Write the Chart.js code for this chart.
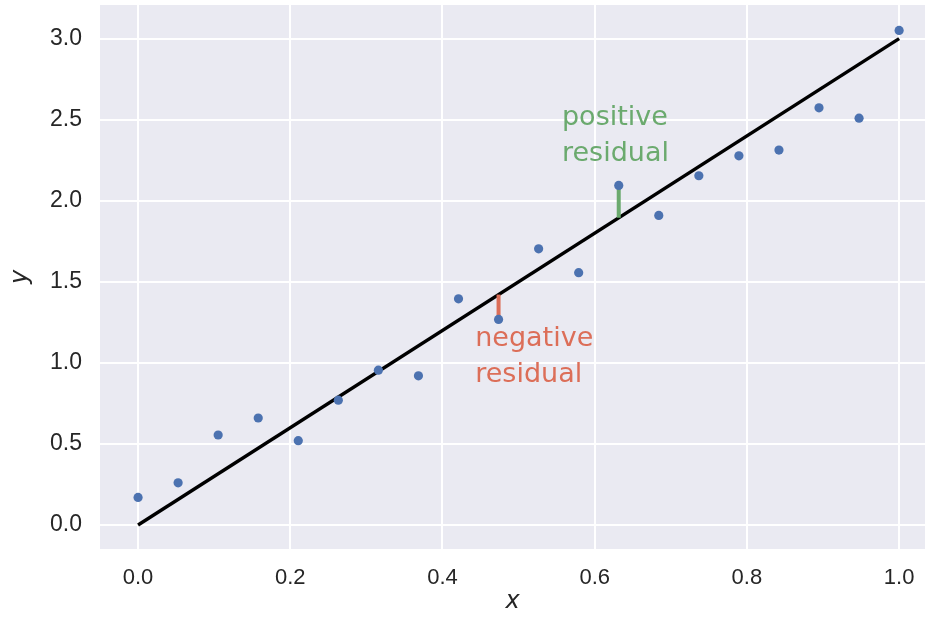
<!DOCTYPE html>
<html>
<head>
<meta charset="utf-8">
<script src="https://cdn.jsdelivr.net/npm/chart.js@4"></script>
<style>
  html, body { margin: 0; padding: 0; background: #fff; }
  #wrap { width: 925px; height: 618px; }
</style>
</head>
<body>
<div id="wrap"><canvas id="chart" width="925" height="618"></canvas></div>
<script>
// --- data ---
const xValues = [0, 1/19, 2/19, 3/19, 4/19, 5/19, 6/19, 7/19, 8/19, 9/19,
                 10/19, 11/19, 12/19, 13/19, 14/19, 15/19, 16/19, 17/19, 18/19, 1];
const yValues = [0.17, 0.26, 0.555, 0.66, 0.52, 0.77, 0.955, 0.92, 1.395, 1.268,
                 1.703, 1.556, 2.094, 1.909, 2.154, 2.277, 2.312, 2.573, 2.509, 3.05];
const fitLine = [{ x: 0, y: 0 }, { x: 1, y: 3 }];
const negResidual = [{ x: 9/19, y: 1.268 }, { x: 9/19, y: 27/19 }];
const posResidual = [{ x: 12/19, y: 2.094 }, { x: 12/19, y: 36/19 }];
const xTicks = [0, 0.2, 0.4, 0.6, 0.8, 1.0];
const yTicks = [0, 0.5, 1.0, 1.5, 2.0, 2.5, 3.0];

const BG = '#EAEAF2';
const BLUE = '#4C72B0';
const RED = '#DC6E58';
const GREEN = '#6BAA6E';
const TEXT = '#262626';

// plot background
const bgPlugin = {
    id: 'bg',
    beforeDraw: (chart) => {
        const a = chart.chartArea;
        const ctx = chart.ctx;
        ctx.save();
        ctx.fillStyle = BG;
        ctx.fillRect(a.left, a.top, a.right - a.left, a.bottom - a.top);
        ctx.restore();
    }
};

// text annotations in data coords
const labels = [
    { lines: ['positive', 'residual'], x: 0.557, y: 2.244, color: GREEN },
    { lines: ['negative', 'residual'], x: 0.443, y: 0.884, color: RED },
];
const textPlugin = {
    id: 'notes',
    afterDatasetsDraw: (chart) => {
        const ctx = chart.ctx;
        const xs = chart.scales.x, ys = chart.scales.y;
        ctx.save();
        ctx.font = '27px "DejaVu Sans"';
        ctx.textAlign = 'left';
        ctx.textBaseline = 'alphabetic';
        labels.forEach(l => {
            ctx.fillStyle = l.color;
            const px = xs.getPixelForValue(l.x);
            const py = ys.getPixelForValue(l.y);
            // last line sits on py, earlier ones stacked above
            l.lines.forEach((t, i) => {
                ctx.fillText(t, px, py - (l.lines.length - 1 - i) * 36);
            });
        });
        ctx.restore();
    }
};

const ctx = document.getElementById('chart').getContext('2d');
new Chart(ctx, {
    type: 'scatter',
    data: {
        datasets: [
            {
                type: 'line',
                data: fitLine,
                borderColor: '#000',
                borderWidth: 3.4,
                pointRadius: 0,
                order: 2,
            },
            {
                type: 'line',
                data: negResidual,
                borderColor: RED,
                borderWidth: 4,
                pointRadius: 0,
                order: 1,
            },
            {
                type: 'line',
                data: posResidual,
                borderColor: GREEN,
                borderWidth: 4,
                pointRadius: 0,
                order: 1,
            },
            {
                data: xValues.map((x, i) => ({ x: x, y: yValues[i] })),
                backgroundColor: BLUE,
                borderWidth: 0,
                pointRadius: 4.6,
                order: 0,
            },
        ]
    },
    options: {
        responsive: false,
        animation: false,
        layout: { autoPadding: false, padding: { top: 5, right: 0, left: 0, bottom: 0 } },
        plugins: {
            legend: { display: false },
            tooltip: { enabled: false },
        },
        scales: {
            x: {
                type: 'linear',
                min: -0.05,
                max: 1.034,
                afterFit: (s) => {
                    s.height = 69;
                    s.paddingLeft = 0;
                    s.paddingRight = 0;
                },
                afterBuildTicks: (s) => { s.ticks = xTicks.map(v => ({ value: v })); },
                border: { display: false },
                grid: { color: '#fff', lineWidth: 2, drawTicks: false },
                ticks: {
                    padding: 16,
                    color: TEXT,
                    font: { family: '"Liberation Sans Narrow", "Liberation Sans", Arial', size: 22 },
                    callback: (v) => v.toFixed(1),
                },
                title: {
                    display: true,
                    text: 'x',
                    color: TEXT,
                    font: { family: '"DejaVu Sans"', size: 24, style: 'italic' },
                    padding: { top: 0, bottom: 2 },
                },
            },
            y: {
                type: 'linear',
                min: -0.148,
                max: 3.207,
                afterFit: (s) => {
                    s.width = 100;
                    s.paddingTop = 0;
                    s.paddingBottom = 0;
                },
                afterBuildTicks: (s) => { s.ticks = yTicks.map(v => ({ value: v })); },
                border: { display: false },
                grid: { color: '#fff', lineWidth: 2, drawTicks: false },
                ticks: {
                    padding: 18,
                    color: TEXT,
                    font: { family: '"Liberation Sans", Arial', size: 23 },
                    callback: (v) => v.toFixed(1),
                },
                title: {
                    display: true,
                    text: 'y',
                    color: TEXT,
                    font: { family: '"DejaVu Sans"', size: 24, style: 'italic' },
                    padding: { top: 6, bottom: 0 },
                },
            },
        },
    },
    plugins: [bgPlugin, textPlugin],
});
</script>
</body>
</html>
